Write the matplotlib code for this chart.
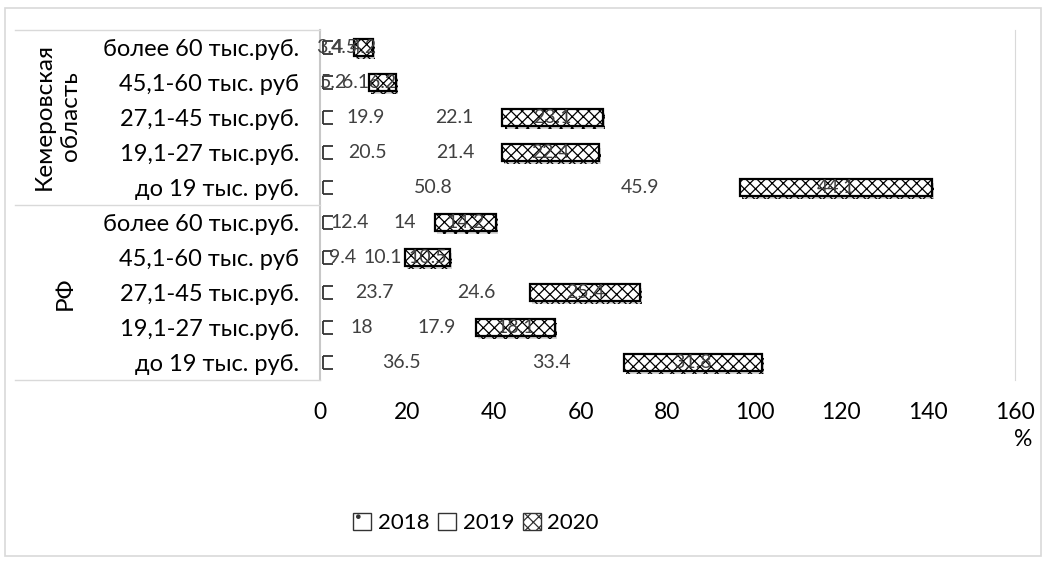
import numpy as np
import matplotlib.pyplot as plt
from matplotlib.patches import Patch, Rectangle
from matplotlib.lines import Line2D
import matplotlib.patheffects as pe

plt.rcParams['font.family'] = ['Lato', 'Open Sans', 'DejaVu Sans']
plt.rcParams['hatch.linewidth'] = 0.9

# rows from bottom to top: РФ, then Кемеровская область
categories = ['до 19 тыс. руб.', '19,1-27 тыс.руб.', '27,1-45 тыс.руб.',
              '45,1-60 тыс. руб', 'более 60 тыс.руб.',
              'до 19 тыс. руб.', '19,1-27 тыс.руб.', '27,1-45 тыс.руб.',
              '45,1-60 тыс. руб', 'более 60 тыс.руб.']
groups = ['РФ', 'Кемеровская\nобласть']
y2018 = [36.5, 18, 23.7, 9.4, 12.4, 50.8, 20.5, 19.9, 5.2, 3.4]
y2019 = [33.4, 17.9, 24.6, 10.1, 14, 45.9, 21.4, 22.1, 6.1, 4.5]
y2020 = [31.8, 18.1, 25.4, 10.5, 14.2, 44.1, 22.4, 23.1, 6.2, 4.2]
years = ['2018', '2019', '2020']
xticks = [0, 20, 40, 60, 80, 100, 120, 140, 160]

W, H = 1047, 564
fig = plt.figure(figsize=(W / 100, H / 100), dpi=100)
ax = fig.add_axes([320 / W, 1 - 380 / H, (1015 - 320) / W, 350 / H])

pos = np.arange(len(categories))
a = np.array(y2018)
b = np.array(y2019)
c = np.array(y2020)
h = 0.46

# 2018 and 2019 segments are white, only the small marker of 2018 shows
ax.barh(pos, a, height=h, color='white', edgecolor='none')
ax.barh(pos, b, left=a, height=h, color='white', edgecolor='none')
m0 = 0.8
m1 = np.minimum(a, 3.0)
ax.barh(pos, m1 - m0, left=m0, height=h * 0.85, color='white', edgecolor='none', hatch='.')
ax.vlines(np.full(len(pos), m0), pos - h * 0.43, pos + h * 0.43, color='#333333', lw=1.3)
ax.hlines(pos - h * 0.43, m0, m1, color='#333333', lw=1.3)
ax.hlines(pos + h * 0.43, m0, m1, color='#333333', lw=1.3)

bars20 = ax.barh(pos, c, left=a + b, height=h, color='white', edgecolor='black',
                 lw=1.6, hatch='xxx')
for p in bars20:
    p.set_path_effects([pe.SimplePatchShadow(offset=(1.5, -2.5), shadow_rgbFace='#999999', alpha=0.4),
                        pe.Normal()])

for i in pos:
    ax.text(a[i] / 2 + 0.6, i, f'{a[i]:g}', ha='center', va='center', fontsize=14, color='#404040')
    ax.text(a[i] + b[i] / 2, i, f'{b[i]:g}', ha='center', va='center', fontsize=14, color='#404040')
    ax.text(a[i] + b[i] + c[i] / 2, i, f'{c[i]:g}', ha='center', va='center', fontsize=14,
            color='#404040')

ax.set_xlim(0, 160)
ax.set_ylim(-0.5, len(pos) - 0.5)
ax.set_xticks(xticks)
ax.set_xticklabels([str(t) for t in xticks], fontsize=16.5)
ax.tick_params(axis='x', length=0, pad=16)
ax.set_yticks(pos)
ax.set_yticklabels(categories, fontsize=17)
ax.tick_params(axis='y', length=0, pad=15)
for s in ['top', 'bottom']:
    ax.spines[s].set_visible(False)
ax.spines['left'].set_color('#c8c8c8')
ax.spines['left'].set_linewidth(1.5)
ax.spines['right'].set_color('#d9d9d9')

# category panel on the left
for yy in [30, 205, 380]:
    fig.add_artist(Line2D([15 / W, 320 / W], [1 - yy / H, 1 - yy / H], color='#d9d9d9', lw=1))
fig.text(57 / W, 1 - 116 / H, groups[1], rotation=90, ha='center', va='center', fontsize=17.5,
         linespacing=1.3)
fig.text(65 / W, 1 - 293 / H, groups[0], rotation=90, ha='center', va='center', fontsize=17.5)

fig.text(1032 / W, 1 - 440 / H, '%', ha='right', va='center', fontsize=16.5)

handles = [Patch(facecolor='white', edgecolor='#333333', hatch='.'),
           Patch(facecolor='white', edgecolor='#333333'),
           Patch(facecolor='white', edgecolor='#333333', hatch='xxx')]
fig.legend(handles, years, loc='center', bbox_to_anchor=(476 / W, 1 - 523 / H), ncol=3,
           frameon=False, fontsize=16, handlelength=0.8, handleheight=0.8,
           handletextpad=0.3, columnspacing=0.4)

fig.add_artist(Rectangle((5 / W, 8 / H), 1036 / W, 548 / H, fill=False,
                         edgecolor='#d9d9d9', lw=1.2))

fig.savefig('out.png', dpi=100)
